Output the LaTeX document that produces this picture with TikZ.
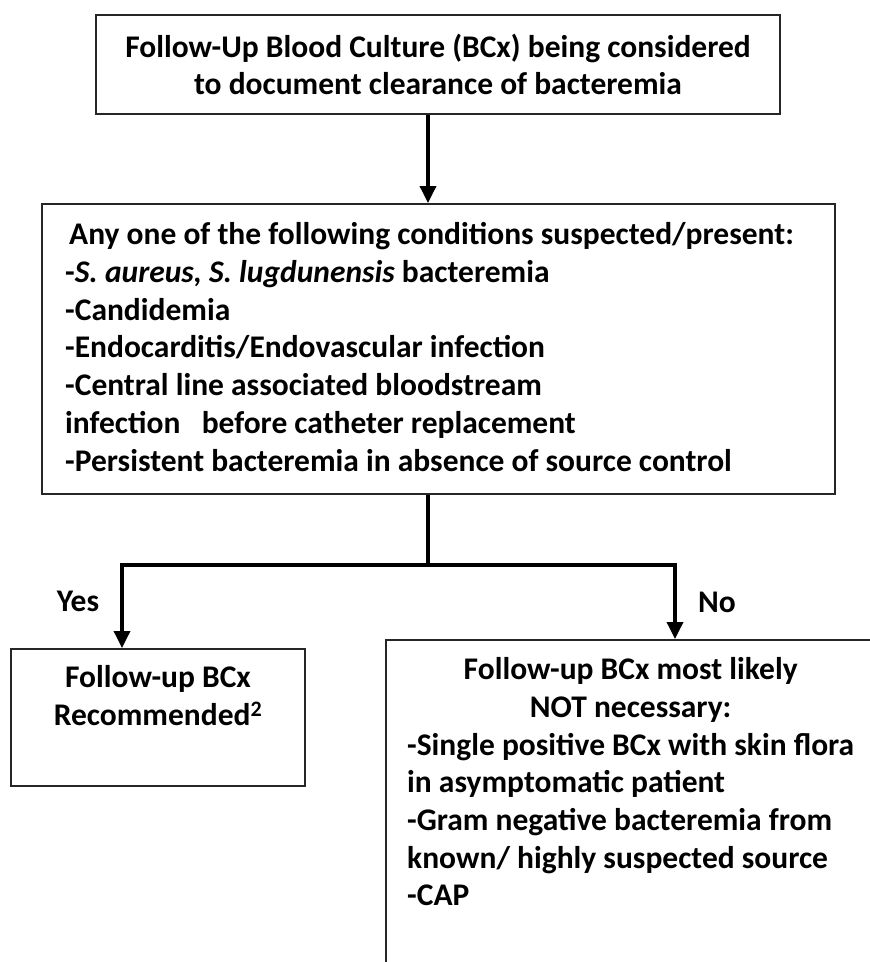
\documentclass[tikz,border=0pt]{standalone}
\usepackage{fontspec}
\setmainfont{Carlito}
\usetikzlibrary{arrows.meta,positioning}

\tikzset{
  box/.style={draw=black!85, line width=2pt, rectangle, inner sep=0pt},
  txt/.style={font=\fontsize{31.5}{37.7}\selectfont\bfseries, inner sep=0pt},
  conn/.style={line width=3.5pt},
  arr/.style={conn, -{Triangle[length=17pt,width=16pt]}},
}

\begin{document}
\begin{tikzpicture}[x=1pt,y=-1pt]
  \useasboundingbox (0,0) rectangle (870,962);
  \clip (0,0) rectangle (870,962);
  \fill[white] (0,0) rectangle (870,962);
  % boxes
  \node[box, txt, align=center, minimum width=684pt, minimum height=99pt] (start) at (438,64.5)
    {Follow-Up Blood Culture (BCx) being considered\\to document clearance of bacteremia};
  \node[box, minimum width=793pt, minimum height=290pt] (cond) at (438.5,349) {};
  \node[txt, align=left, anchor=west] (condtext) at ([xshift=24pt,yshift=2pt]cond.west)
    {\hspace*{4pt}Any one of the following conditions suspected/present:\\
     -\textit{S. aureus, S. lugdunensis} bacteremia\\
     -Candidemia\\
     -Endocarditis/Endovascular infection\\
     -Central line associated bloodstream\\
     infection\ \ \ before catheter replacement\\
     -Persistent bacteremia in absence of source control};
  \node[box, minimum width=294pt, minimum height=137pt] (yes) at (158,717.5) {};
  \node[txt, align=center] (yestext) at ([yshift=22pt]yes.center)
    {Follow-up BCx\\Recommended\textsuperscript{2}};
  \node[box, minimum width=487pt, minimum height=400pt, anchor=north west] (no) at (385,639) {};
  \node[txt, anchor=north west] (notext) at ([xshift=22pt,yshift=-14pt]no.north west)
    {\begin{tabular}{@{}l@{}}
      \multicolumn{1}{@{}c@{}}{Follow-up BCx most likely}\\
      \multicolumn{1}{@{}c@{}}{NOT necessary:}\\
      -Single positive BCx with skin flora\\
      in asymptomatic patient\\
      -Gram negative bacteremia from\\
      known/ highly suspected source\\
      -CAP
     \end{tabular}};
  % branch labels
  \node[txt] (yeslbl) at (78,601) {Yes};
  \node[txt] (nolbl) at (717,602) {No};
  % connectors
  \coordinate (split) at (428,565);
  \coordinate (yesend) at (122,565);
  \coordinate (noend) at (675,565);
  \draw[arr] (start.south -| split) -- (split |- cond.north);
  \draw[conn] (cond.south -| split) -- (split);
  \draw[arr] (split) -- (yesend) -- (yesend |- yes.north);
  \draw[arr] (split) -- (noend) -- (noend |- no.north);
\end{tikzpicture}
\end{document}
